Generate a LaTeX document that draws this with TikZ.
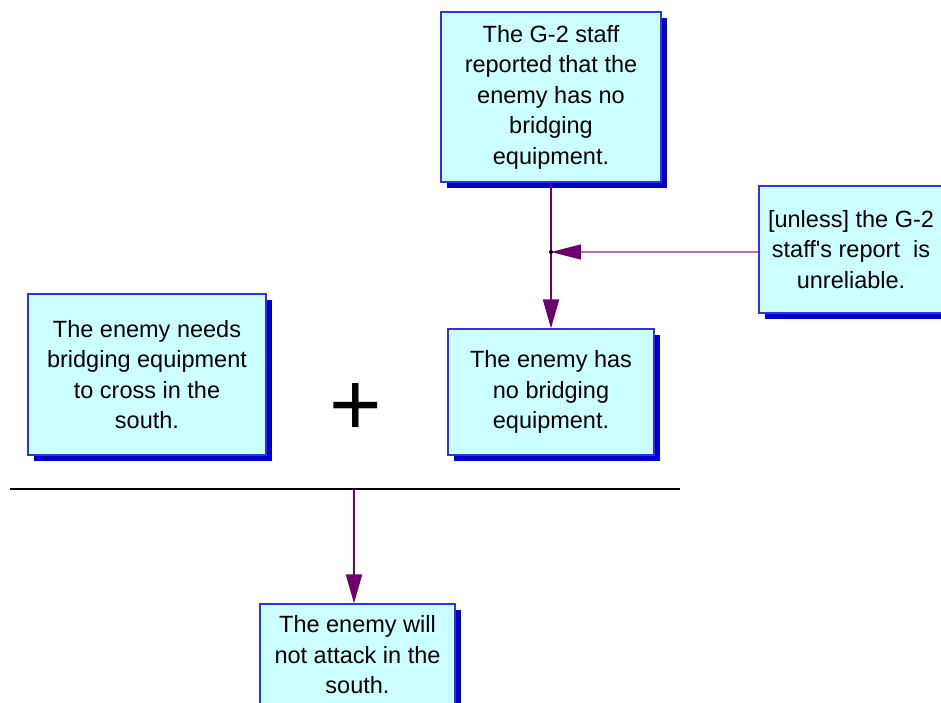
\documentclass[tikz,border=0pt]{standalone}
\usepackage{fontspec}
\newfontfamily\arial{Liberation Sans}
\usetikzlibrary{arrows.meta,shadows}
\definecolor{boxfill}{RGB}{204,255,255}
\definecolor{boxline}{RGB}{51,51,221}
\definecolor{shadowblue}{RGB}{0,0,204}
\definecolor{linkpurple}{RGB}{110,0,110}
\definecolor{rebutpurple}{RGB}{176,112,176}
\begin{document}
\begin{tikzpicture}[x=1pt,y=-1pt,
  claim/.style={rectangle, draw=boxline, line width=1.2pt, fill=boxfill,
    align=center, inner sep=0pt,
    font=\arial\fontsize{23.5}{30.5}\selectfont,
    drop shadow={shadow xshift=6pt, shadow yshift=-6pt, fill=shadowblue, opacity=1}},
  link/.style={draw=linkpurple, line width=2pt, -{Triangle[length=29pt,width=16pt]}},
  rebut/.style={draw=rebutpurple, line width=1.3pt,
    -{Triangle[length=30pt,width=15pt,color=linkpurple]}}]
  \path[use as bounding box] (0,0) rectangle (941,702);
  \clip (0,0) rectangle (941,702);

  % claims
  \node[claim, minimum width=220pt, minimum height=170pt] (g2) at (551,97)
    {The G-2 staff\\reported that the\\enemy has no\\bridging\\equipment.};
  \node[claim, minimum width=184pt, minimum height=127pt] (unless) at (851,249.5)
    {[unless] the G-2\\staff's report\ \ is\\unreliable.};
  \node[claim, minimum width=238pt, minimum height=161pt] (needs) at (147,374.5)
    {The enemy needs\\bridging equipment\\to cross in the\\south.};
  \node[claim, minimum width=206pt, minimum height=126pt] (nobridge) at (551,392)
    {The enemy has\\no bridging\\equipment.};
  \node[claim, minimum width=195pt, minimum height=102pt] (concl) at (357.5,655)
    {The enemy will\\not attack in the\\south.};

  % conjunction sign and inference bar
  \node[font=\arial\fontsize{90}{90}\selectfont, inner sep=0pt] (plus) at (356,410) {+};
  \coordinate (barL) at (10,489);
  \coordinate (barR) at (680,489);
  \coordinate (barM) at (354,489);
  \draw[line width=1.2pt] (barL) -- (barR);

  % support and rebuttal links
  \coordinate (j) at (g2.south |- 0,252);
  \draw[link] (g2.south) -- (nobridge.north);
  \draw[rebut] (unless.west |- j) -- (j);
  \fill (j) circle (2pt);
  \draw[link] (barM) -- (barM |- concl.north);
\end{tikzpicture}
\end{document}
